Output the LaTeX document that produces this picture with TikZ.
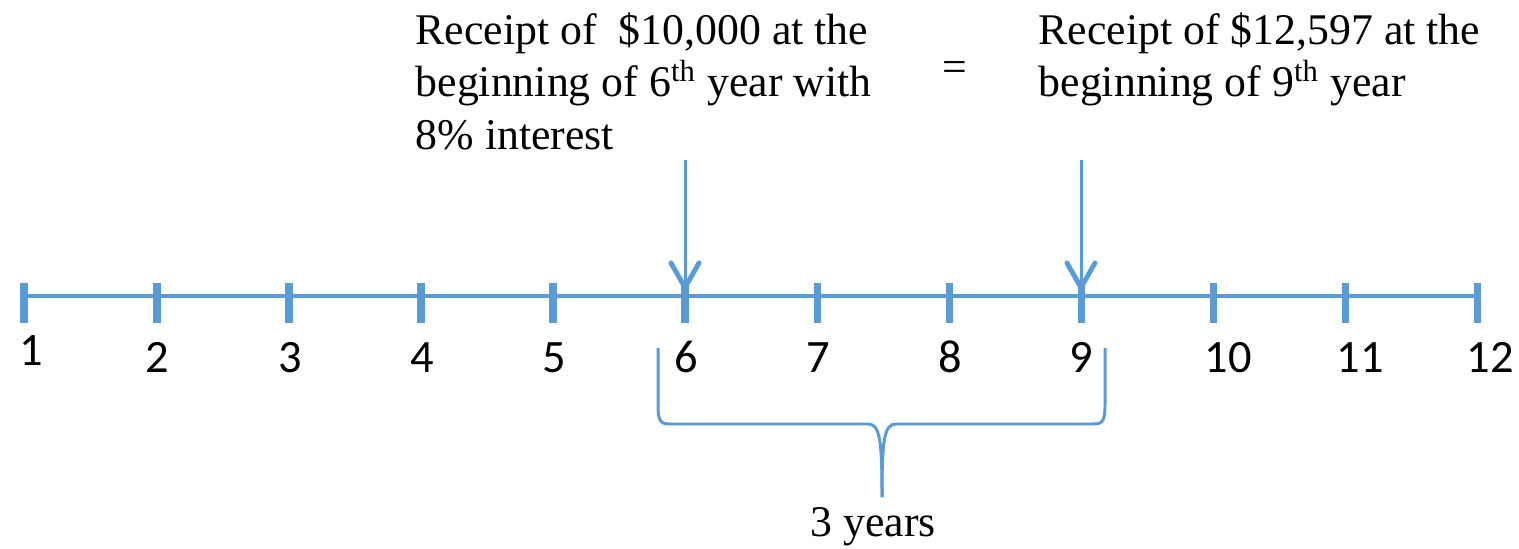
\documentclass[tikz,border=0pt]{standalone}
\usepackage{fontspec}
\setmainfont{Liberation Serif}
\newfontfamily\numfont{Carlito}
\usetikzlibrary{arrows.meta}
\definecolor{lineblue}{RGB}{91,155,213}
\tikzset{
  axis/.style={draw=lineblue, line width=1pt},
  tickmark/.style={draw=lineblue, line width=2pt},
  pointer/.style={draw=lineblue, line width=0.85pt,
    -{Straight Barb[length=7pt,width=8pt,round,line width=1.4pt]}},
  bracket/.style={draw=lineblue, line width=0.85pt},
  numlabel/.style={inner sep=0pt, anchor=base, font=\numfont\fontsize{13.2}{15}\selectfont},
  caption/.style={inner sep=0pt, align=left, font=\fontsize{12.45}{14.9}\selectfont},
}
\begin{document}
\begin{tikzpicture}[x=0.01cm,y=-0.01cm]
\useasboundingbox (0,0) rectangle (1519,549);
% tick coordinates
\foreach \i/\x in {1/24,2/157,3/289,4/421,5/553,6/685,7/817,8/949,9/1081,10/1213,11/1345,12/1477}{
  \coordinate (t\i) at (\x,296);
}
\draw[axis] (t1) -- (t12);
\foreach \i in {1,...,12}{
  \draw[tickmark] ([yshift=0.13cm]t\i) -- ([yshift=-0.27cm]t\i);
}
% numbers
\node[numlabel] (n1) at (31,366) {1};
\node[numlabel] (n2) at (157,372) {2};
\node[numlabel] (n3) at (290,372) {3};
\node[numlabel] (n4) at (422,372) {4};
\node[numlabel] (n5) at (554,372) {5};
\node[numlabel] (n6) at (686,372) {6};
\node[numlabel] (n7) at (818,372) {7};
\node[numlabel] (n8) at (950,372) {8};
\node[numlabel] (n9) at (1081,372) {9};
\node[numlabel] (n10) at (1228,372) {10};
\node[numlabel] (n11) at (1360,372) {11};
\node[numlabel] (n12) at (1490,372) {12};
% captions
\node[caption, anchor=north west] (capL) at (415,12)
  {Receipt of \ \$10,000 at the\\beginning of 6\textsuperscript{th} year with\\8\% interest};
\node[caption, anchor=north west] (capR) at (1038,12)
  {Receipt of \$12,597 at the\\beginning of 9\textsuperscript{th} year};
\node[caption] (eq) at (955,72) {=};
% arrows
\coordinate (a6) at (685,160);
\coordinate (a9) at (1081,160);
\draw[pointer, shorten >=1.7pt] (a6) -- (t6);
\draw[pointer, shorten >=1.7pt] (a9) -- (t9);
% brace
\coordinate (bl) at (658,348);
\coordinate (br) at (1105,348);
\coordinate (bm) at (882,497);
\draw[bracket] (bl) -- (658,405) .. controls (658,424) and (662,424) .. (672,424)
  -- (868,424) .. controls (880,424) and (882,440) .. (bm);
\draw[bracket] (br) -- (1105,405) .. controls (1105,424) and (1101,424) .. (1091,424)
  -- (896,424) .. controls (884,424) and (882,440) .. (bm);
\node[caption, anchor=base] (yrs) at (873,536) {3 years};
\end{tikzpicture}
\end{document}
